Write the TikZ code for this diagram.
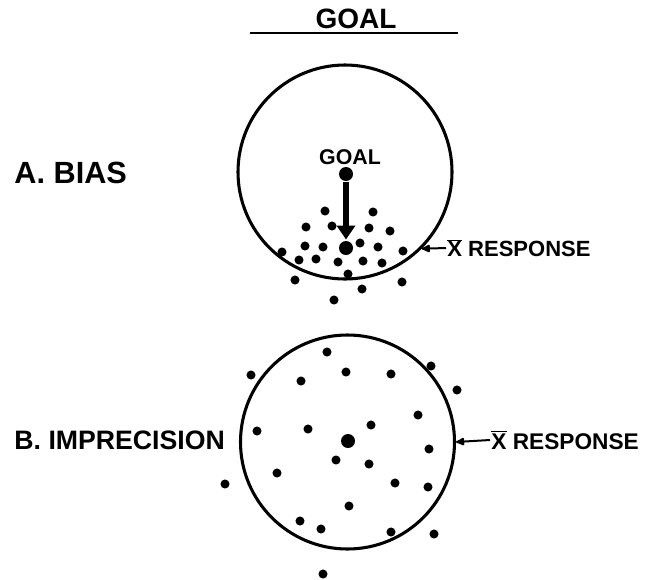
\documentclass[tikz,border=0pt]{standalone}
\usepackage{fontspec}
\setmainfont{Liberation Sans}
\usetikzlibrary{arrows.meta}

\begin{document}
\begin{tikzpicture}[x=0.75pt, y=-0.75pt, line width=2.2pt,
  lettering/.style={font=\bfseries\fontsize{20}{20}\selectfont, inner sep=0pt},
  ring/.style={circle, draw, line width=2.3pt, minimum size=160.5pt, inner sep=0pt},
  bigdot/.style={circle, fill, minimum size=10.5pt, inner sep=0pt},
  pointer/.style={line width=1.5pt, -{Latex[round, length=8pt, width=7pt]}}]
  \useasboundingbox (0,0) rectangle (653,579);
  % title
  \node[lettering, font=\bfseries\fontsize{21}{21}\selectfont] (title) at (356,19) {GOAL};
  \draw[line width=2pt] (250,33) -- (458,33);
  % A. bias
  \node[lettering, anchor=west, font=\bfseries\fontsize{23}{23}\selectfont] (biaslabel) at (13,173) {A.\ BIAS};
  \node[ring] (biascirc) at (345,172) {};
  \node[lettering, font=\bfseries\fontsize{16}{16}\selectfont] (goaltext) at (350,157) {GOAL};
  \node[bigdot] (goal) at (346,174) {};
  \node[bigdot] (meanA) at (346,248) {};
  \foreach \px/\py in {325/211, 373/212, 306/227, 332/226, 369/228, 390/231,
      305/246, 323/247, 360/243, 378/247, 403/251, 282/252, 299/260, 316/259,
      338/262, 363/261, 382/263, 348/274, 295/280, 402/282, 362/289, 334/300}
    \fill (\px,\py) circle[radius=3.4pt];
  \draw[line width=3.8pt, -{Triangle[length=10.5pt, width=13.5pt]}] (goal) -- (meanA);
  \node[lettering, anchor=west, font=\bfseries\fontsize{16.5}{16.5}\selectfont] (respA) at (446,248) {$\overline{\mbox{X}}$ RESPONSE};
  \draw[pointer] (respA.west) -- (biascirc.-45);
  % B. imprecision
  \node[lettering, anchor=west] (imprlabel) at (13,440) {B.\ IMPRECISION};
  \node[ring] (imprcirc) at (347.5,442) {};
  \node[bigdot] (meanB) at (348,441) {};
  \foreach \px/\py in {327/352, 251/375, 346/372, 391/374, 301/381, 431/366,
      457/390, 418/415, 257/431, 308/429, 371/425, 225/484, 277/473, 336/460,
      369/464, 429/449, 395/483, 428/487, 349/506, 300/521, 321/529, 391/532,
      434/534, 323/574}
    \fill (\px,\py) circle[radius=3.4pt];
  \node[lettering, anchor=west, font=\bfseries\fontsize{17}{17}\selectfont] (respB) at (490,440) {$\overline{\mbox{X}}$ RESPONSE};
  \draw[pointer] (respB.west) -- (imprcirc.east);
\end{tikzpicture}
\end{document}
